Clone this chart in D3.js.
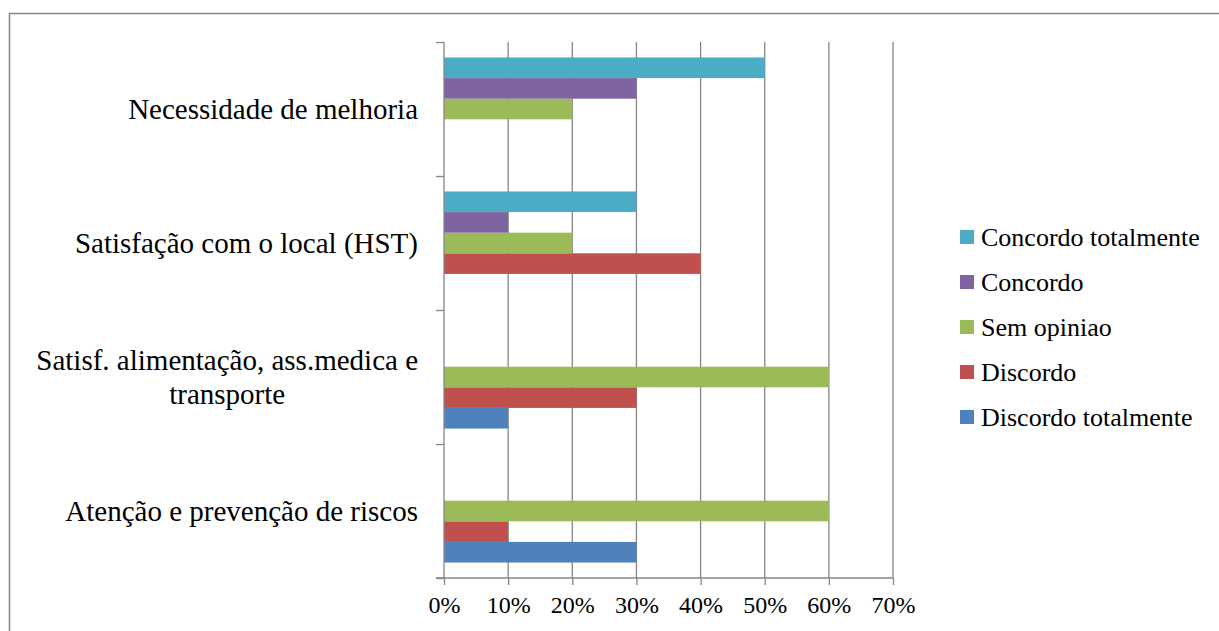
<!DOCTYPE html>
<html>
<head>
<meta charset="utf-8">
<script src="https://cdn.jsdelivr.net/npm/d3@7"></script>
<style>
	body { margin: 0; background: #fff; }
	svg { display: block; font-family: "Liberation Serif", "Times New Roman", serif; }
</style>
</head>
<body>
<svg id="chart" width="1219" height="631"></svg>
<script>
// categories bottom-to-top, as in the spreadsheet
var categories = [
	'Atenção e prevenção de riscos',
	'Satisf. alimentação, ass.medica e transporte',
	'Satisfação com o local (HST)',
	'Necessidade de melhoria'
];

var seriesNames = ['Discordo totalmente', 'Discordo', 'Sem opiniao', 'Concordo', 'Concordo totalmente'];
var seriesColors = ['#4F81BD', '#C0504D', '#9BBB59', '#8064A2', '#4BACC6'];

var discordoTotalmente = [0.30, 0.10, 0.00, 0.00];
var discordo = [0.10, 0.30, 0.40, 0.00];
var semOpiniao = [0.60, 0.60, 0.20, 0.20];
var concordo = [0.00, 0.00, 0.10, 0.30];
var concordoTotalmente = [0.00, 0.00, 0.30, 0.50];

var xTicks = [0, 0.1, 0.2, 0.3, 0.4, 0.5, 0.6, 0.7];

var seriesValues = [discordoTotalmente, discordo, semOpiniao, concordo, concordoTotalmente];

var svg = d3.select('#chart');

// outer frame
svg.append('rect')
	.attr('x', 9.5).attr('y', 13.5)
	.attr('width', 1260).attr('height', 700)
	.attr('fill', 'none')
	.attr('stroke', '#868686')
	.attr('stroke-width', 1.5);

var plotLeft = 444, plotRight = 893, plotTop = 42, plotBottom = 578;

var x = d3.scaleLinear().domain([0, 0.7]).range([plotLeft, plotRight]);

var y = d3.scaleBand()
	.domain(categories.slice().reverse())
	.range([plotTop, plotBottom])
	.paddingInner(0).paddingOuter(0);

var yInner = d3.scaleBand()
	.domain(seriesNames.slice().reverse())
	.range([0, y.bandwidth()])
	.paddingInner(0).paddingOuter(0.75);

// gridlines
svg.append('g').selectAll('line')
	.data(xTicks.slice(1))
	.enter().append('line')
		.attr('x1', function(d){ return x(d); })
		.attr('x2', function(d){ return x(d); })
		.attr('y1', plotTop).attr('y2', plotBottom)
		.attr('stroke', '#868686')
		.attr('stroke-width', 1.3);

// bars
var groups = svg.append('g').selectAll('g')
	.data(categories)
	.enter().append('g')
		.attr('transform', function(d){ return 'translate(0,' + y(d) + ')'; });

groups.selectAll('rect')
	.data(function(c, ci){
		return seriesNames.map(function(s, si){
			return { series: s, value: seriesValues[si][ci], color: seriesColors[si] };
		});
	})
	.enter().append('rect')
		.attr('x', x(0))
		.attr('y', function(d){ return yInner(d.series); })
		.attr('width', function(d){ return x(d.value) - x(0); })
		.attr('height', yInner.bandwidth())
		.attr('fill', function(d){ return d.color; });

// x axis
var xAxis = svg.append('g')
	.attr('transform', 'translate(0,' + plotBottom + ')')
	.call(d3.axisBottom(x).tickValues(xTicks).tickFormat(d3.format('.0%')).tickSize(7).tickSizeOuter(0));
xAxis.select('.domain').remove();
xAxis.append('line')
	.attr('x1', plotLeft - 8).attr('x2', plotRight)
	.attr('stroke', '#868686').attr('stroke-width', 1.3);
xAxis.selectAll('.tick line').attr('stroke', '#868686').attr('stroke-width', 1.3);
xAxis.selectAll('.tick text')
	.attr('y', 18)
	.attr('fill', '#000')
	.style('font-family', '"Liberation Serif", serif')
	.style('font-size', '24px');

// y axis
var yAxis = svg.append('g')
	.attr('transform', 'translate(' + plotLeft + ',0)')
	.call(d3.axisLeft(d3.scaleLinear().domain([0, 4]).range([plotBottom, plotTop])).ticks(4).tickSize(8).tickFormat(''));
yAxis.select('.domain').attr('stroke', '#868686').attr('stroke-width', 1.3).attr('d', 'M0,' + plotTop + 'V' + plotBottom);
yAxis.selectAll('.tick line').attr('stroke', '#868686').attr('stroke-width', 1.3);

// category labels, wrapped and centred within a right-aligned block
var labelFont = 29;
var labels = svg.append('g')
	.style('font-size', labelFont + 'px');

categories.forEach(function(c){
	var words = c.split(' ');
	var lines = [];
	var cur = '';
	var probe = labels.append('text');
	words.forEach(function(w){
		var test = cur ? cur + ' ' + w : w;
		probe.text(test);
		if (probe.node().getComputedTextLength() > 400 && cur) {
			lines.push(cur);
			cur = w;
		} else {
			cur = test;
		}
	});
	lines.push(cur);
	var widths = lines.map(function(l){ probe.text(l); return probe.node().getComputedTextLength(); });
	probe.remove();
	var blockW = d3.max(widths);
	var cx = 418 - blockW / 2;
	var lh = 34;
	var cy = y(c) + y.bandwidth() / 2 - (lines.length - 1) * lh / 2;
	var t = labels.append('text')
		.attr('text-anchor', 'middle')
		.attr('fill', '#000');
	lines.forEach(function(l, i){
		t.append('tspan')
			.attr('x', cx)
			.attr('y', cy + i * lh)
			.attr('dy', '0.33em')
			.text(l);
	});
});

// legend (reversed, as in the original)
var legend = svg.append('g').selectAll('g')
	.data(seriesNames.map(function(s, i){ return { name: s, color: seriesColors[i] }; }).reverse())
	.enter().append('g')
		.attr('transform', function(d, i){ return 'translate(960,' + (237 + i * 45) + ')'; });

legend.append('rect')
	.attr('x', 0).attr('y', -7)
	.attr('width', 14).attr('height', 14)
	.attr('fill', function(d){ return d.color; });

legend.append('text')
	.attr('x', 21)
	.attr('dy', '0.33em')
	.style('font-size', '26px')
	.attr('fill', '#000')
	.text(function(d){ return d.name; });
</script>
</body>
</html>
